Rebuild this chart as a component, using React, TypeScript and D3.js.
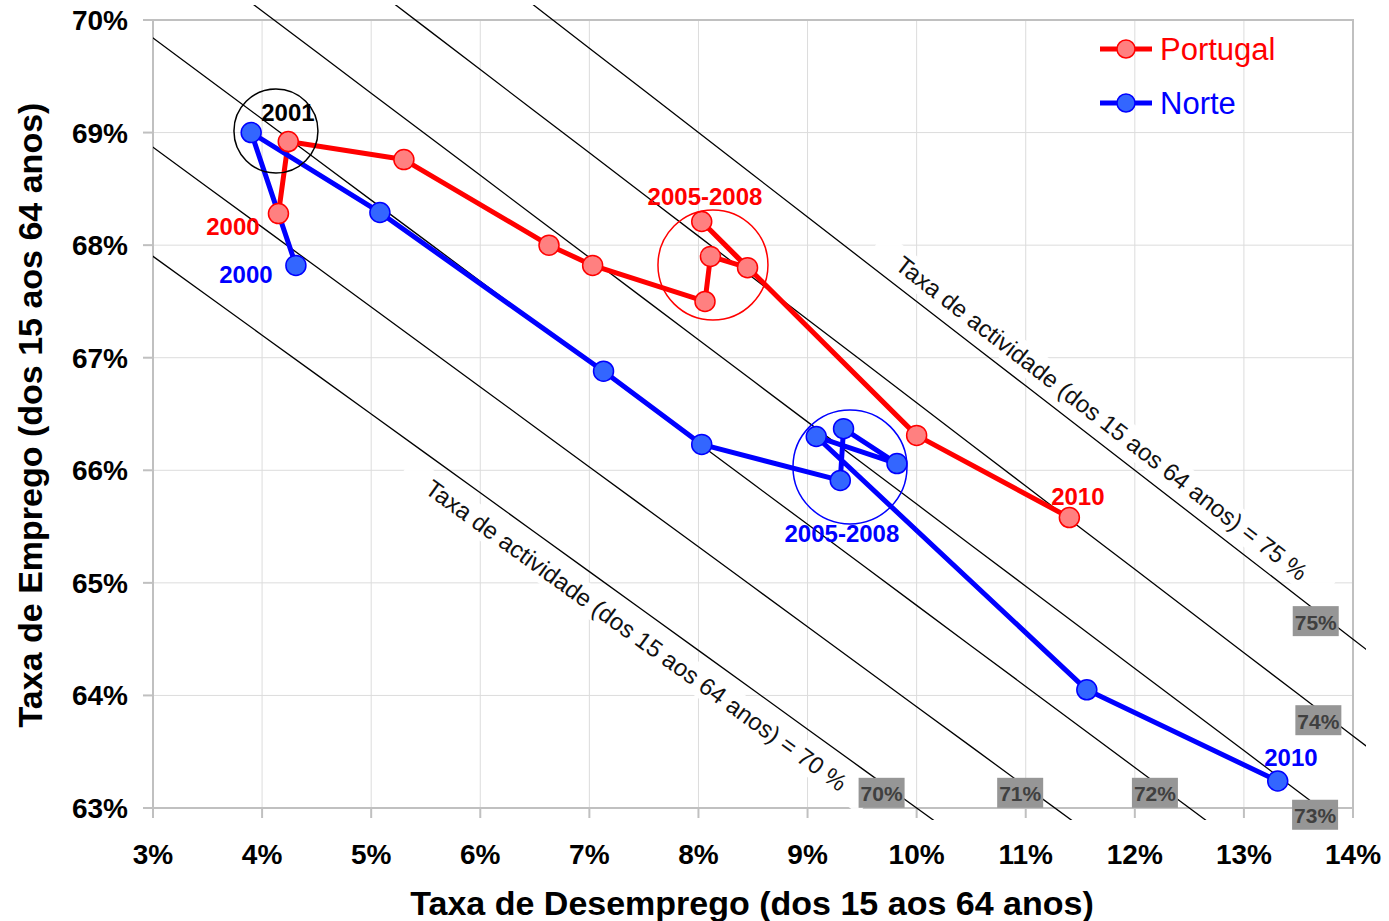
import React from "react";
import * as d3 from "d3";

// ---- data ----
const portugalU = [4.15, 4.24, 5.3, 6.63, 7.03, 8.06, 8.11, 8.45, 8.03, 10.0, 11.4];
const portugalE = [68.28, 68.92, 68.76, 68.0, 67.82, 67.5, 67.9, 67.8, 68.21, 66.31, 65.58];
const norteU = [4.31, 3.9, 5.08, 7.13, 8.03, 9.3, 9.33, 9.82, 9.08, 11.56, 13.31];
const norteE = [67.82, 69.0, 68.29, 66.88, 66.23, 65.91, 66.37, 66.06, 66.3, 64.05, 63.24];
const years = [2000, 2001, 2002, 2003, 2004, 2005, 2006, 2007, 2008, 2009, 2010];

const xTicks = [3, 4, 5, 6, 7, 8, 9, 10, 11, 12, 13, 14];
const yTicks = [63, 64, 65, 66, 67, 68, 69, 70];

const activityRates = [70, 71, 72, 73, 74, 75];
const activityLabelE = [63.135, 63.135, 63.135, 62.94, 63.78, 64.66];

const seriesNames = ["Portugal", "Norte"];

const annotations = [
  { text: "2001", u: 4.237, e: 69.174, color: "#000000" },
  { text: "2000", u: 3.733, e: 68.162, color: "#ff0000" },
  { text: "2000", u: 3.852, e: 67.735, color: "#0000ff" },
  { text: "2005-2008", u: 8.06, e: 68.428, color: "#ff0000" },
  { text: "2005-2008", u: 9.315, e: 65.435, color: "#0000ff" },
  { text: "2010", u: 11.478, e: 65.764, color: "#ff0000" },
  { text: "2010", u: 13.431, e: 63.446, color: "#0000ff" },
];

const circles = [
  { u: 4.127, e: 69.014, r: 42, color: "#000000" },
  { u: 8.133, e: 67.824, r: 55, color: "#ff0000" },
  { u: 9.389, e: 66.03, r: 57, color: "#0000ff" },
];

const activityTexts = [
  { a: 70, u: 7.56, offset: 24, label: "Taxa de actividade (dos 15 aos 64 anos) = 70 %" },
  { a: 75, u: 11.58, offset: -21, label: "Taxa de actividade (dos 15 aos 64 anos) = 75 %" },
];

// ---- layout ----
const W = 1389;
const H = 921;
const left = 153, right = 1353, top = 20, bottom = 808;
const FONT = "Arial, 'Liberation Sans', sans-serif";

export default function App() {
  const x = d3.scaleLinear().domain([3, 14]).range([left, right]);
  const y = d3.scaleLinear().domain([63, 70]).range([bottom, top]);

  const line = d3
    .line<[number, number]>()
    .x((d) => x(d[0]))
    .y((d) => y(d[1]));

  const isoPts = (a: number): [number, number][] => {
    const us = d3.range(2, 16.01, 0.5);
    return us.map((u) => [u, a * (1 - u / 100)] as [number, number]);
  };

  const kx = x(4) - x(3);
  const ky = y(63) - y(64);
  const angleFor = (a: number) => (Math.atan((a / 100) * (ky / kx)) * 180) / Math.PI;

  const series = [
    { name: seriesNames[0], u: portugalU, e: portugalE, color: "#ff0000", fill: "#ff8080" },
    { name: seriesNames[1], u: norteU, e: norteE, color: "#0000ff", fill: "#3366ff" },
  ];

  return (
    <svg width={W} height={H} style={{ display: "block", position: "absolute", left: 0, top: 0 }}>
      <defs>
        <clipPath id="isoClip">
          <rect x={left} y={5} width={1366 - left} height={820 - 5} />
        </clipPath>
      </defs>
      <rect x={0} y={0} width={W} height={H} fill="#ffffff" />

      {/* gridlines */}
      {xTicks.map((t) => (
        <line key={"gx" + t} x1={x(t)} x2={x(t)} y1={top} y2={bottom} stroke="#dcdcdc" strokeWidth={1} />
      ))}
      {yTicks.map((t) => (
        <line key={"gy" + t} x1={left} x2={right} y1={y(t)} y2={y(t)} stroke="#dcdcdc" strokeWidth={1} />
      ))}

      {/* plot frame */}
      <rect x={left} y={top} width={right - left} height={bottom - top} fill="none" stroke="#c0c0c0" strokeWidth={2} />
      {xTicks.map((t) => (
        <line key={"tx" + t} x1={x(t)} x2={x(t)} y1={bottom} y2={bottom + 10} stroke="#c0c0c0" strokeWidth={2} />
      ))}
      {yTicks.map((t) => (
        <line key={"ty" + t} x1={left - 10} x2={left} y1={y(t)} y2={y(t)} stroke="#c0c0c0" strokeWidth={2} />
      ))}

      {/* activity text backgrounds */}
      {activityTexts.map((t, i) => {
        const px = x(t.u);
        const py = y(t.a * (1 - t.u / 100));
        const ang = angleFor(t.a);
        return (
          <g key={"atb" + i} transform={`translate(${px},${py}) rotate(${ang})`}>
            <rect x={-285} y={t.offset - 15} width={570} height={30} fill="#ffffff" opacity={0.95} />
          </g>
        );
      })}

      {/* iso-activity lines */}
      <g clipPath="url(#isoClip)">
        {activityRates.map((a) => (
          <path key={"iso" + a} d={line(isoPts(a)) || ""} fill="none" stroke="#000000" strokeWidth={1.3} />
        ))}
      </g>

      {/* activity text */}
      {activityTexts.map((t, i) => {
        const px = x(t.u);
        const py = y(t.a * (1 - t.u / 100));
        const ang = angleFor(t.a);
        return (
          <g key={"at" + i} transform={`translate(${px},${py}) rotate(${ang})`}>
            <text
              x={0}
              y={t.offset}
              textAnchor="middle"
              dominantBaseline="central"
              fontFamily={FONT}
              fontSize={24}
              fill="#111111"
            >
              {t.label}
            </text>
          </g>
        );
      })}

      {/* activity boxes */}
      {activityRates.map((a, i) => {
        const e = activityLabelE[i];
        const cx = x(100 * (1 - e / a)) - 14;
        const cy = y(e);
        return (
          <g key={"box" + a}>
            <rect x={cx - 23} y={cy - 15} width={46} height={30} fill="#969696" />
            <text
              x={cx}
              y={cy + 1}
              textAnchor="middle"
              dominantBaseline="central"
              fontFamily={FONT}
              fontWeight="bold"
              fontSize={21}
              fill="#404040"
            >
              {a}%
            </text>
          </g>
        );
      })}

      {/* series lines */}
      {series.map((s) => (
        <path
          key={"l" + s.name}
          d={line(s.u.map((u, i) => [u, s.e[i]] as [number, number])) || ""}
          fill="none"
          stroke={s.color}
          strokeWidth={5}
          strokeLinejoin="round"
        />
      ))}
      {/* markers */}
      {series.map((s) =>
        s.u.map((u, i) => (
          <circle
            key={"m" + s.name + years[i]}
            cx={x(u)}
            cy={y(s.e[i])}
            r={10}
            fill={s.fill}
            stroke={s.color}
            strokeWidth={1.5}
          />
        ))
      )}

      {/* highlight circles */}
      {circles.map((c, i) => (
        <circle key={"c" + i} cx={x(c.u)} cy={y(c.e)} r={c.r} fill="none" stroke={c.color} strokeWidth={1.5} />
      ))}

      {/* annotations */}
      {annotations.map((a, i) => (
        <text
          key={"an" + i}
          x={x(a.u)}
          y={y(a.e)}
          textAnchor="middle"
          dominantBaseline="central"
          fontFamily={FONT}
          fontWeight="bold"
          fontSize={24}
          fill={a.color}
        >
          {a.text}
        </text>
      ))}

      {/* axis tick labels */}
      {xTicks.map((t) => (
        <text
          key={"xl" + t}
          x={x(t)}
          y={864}
          textAnchor="middle"
          fontFamily={FONT}
          fontWeight="bold"
          fontSize={28}
          fill="#000"
        >
          {t}%
        </text>
      ))}
      {yTicks.map((t) => (
        <text
          key={"yl" + t}
          x={128}
          y={y(t) + 10}
          textAnchor="end"
          fontFamily={FONT}
          fontWeight="bold"
          fontSize={28}
          fill="#000"
        >
          {t}%
        </text>
      ))}

      {/* axis titles */}
      <text x={752} y={915} textAnchor="middle" fontFamily={FONT} fontWeight="bold" fontSize={34} fill="#000">
        Taxa de Desemprego (dos 15 aos 64 anos)
      </text>
      <text
        transform={`translate(42,415) rotate(-90)`}
        textAnchor="middle"
        fontFamily={FONT}
        fontWeight="bold"
        fontSize={34}
        fill="#000"
      >
        Taxa de Emprego (dos 15 aos 64 anos)
      </text>

      {/* legend */}
      {series.map((s, i) => {
        const ly = 49 + i * 54;
        return (
          <g key={"lg" + s.name}>
            <line x1={1100} x2={1152} y1={ly} y2={ly} stroke={s.color} strokeWidth={5} />
            <circle cx={1126} cy={ly} r={9} fill={s.fill} stroke={s.color} strokeWidth={1.5} />
            <text x={1160} y={ly + 11} fontFamily={FONT} fontSize={31} fill={s.color}>
              {s.name}
            </text>
          </g>
        );
      })}
    </svg>
  );
}
